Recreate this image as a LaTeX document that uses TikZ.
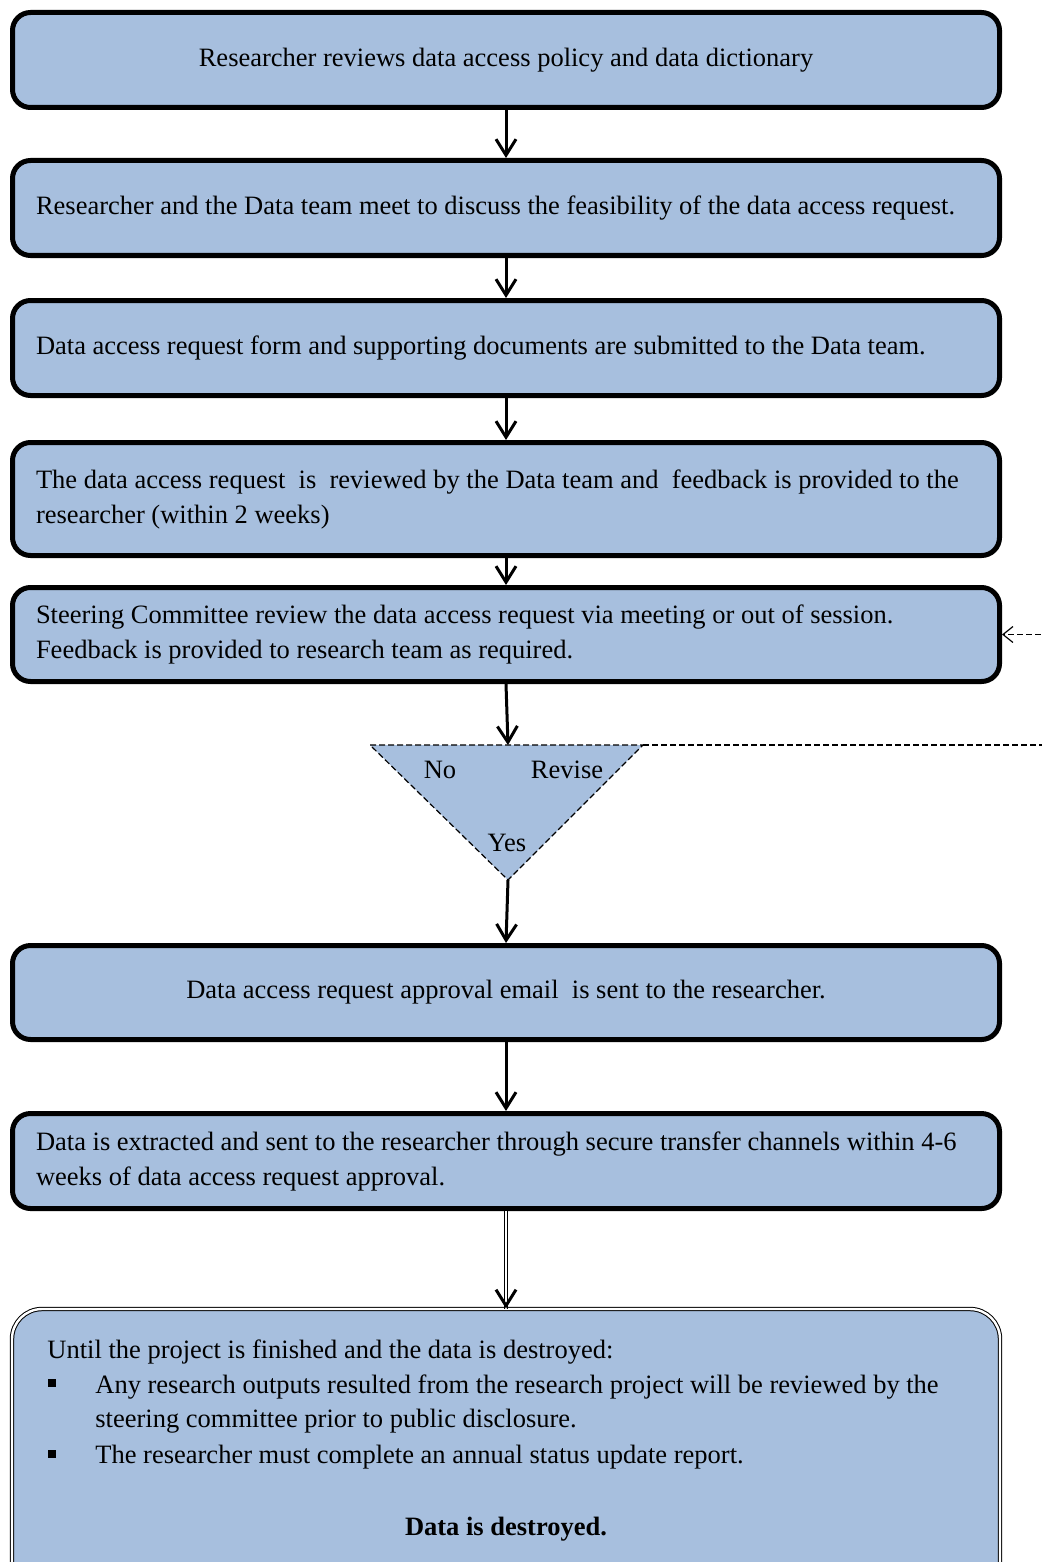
\documentclass[tikz,border=0pt]{standalone}
\usepackage{fontspec}
\setmainfont{Liberation Serif}
\usetikzlibrary{
    positioning,
    arrows.meta
}
\definecolor{boxblue}{HTML}{A7BFDE}
\tikzset{
    >={Straight Barb[length=8pt,width=10pt]},
    every node/.style={
        font=\fontsize{13.25}{17.5}\selectfont
    },
    paso/.style={
        draw,
        line width=2.5pt,
        rounded corners=9pt,
        fill=boxblue,
        minimum width=493.5pt,
        minimum height=47.5pt,
        text width=470pt,
        inner xsep=11.75pt,
        align=left,
        execute at begin node={\spaceskip=0pt\xspaceskip=0pt}
    },
    finbox/.style={
        draw,
        line width=0.5pt,
        double=white,
        double distance=1.2pt,
        rounded corners=15pt,
        fill=boxblue,
        minimum width=494pt,
        minimum height=145.5pt
    },
    flecha/.style={->, line width=1.5pt},
    guion/.style={
        line width=0.6pt,
        dash pattern=on 3pt off 1.5pt
    },
    linea/.style={anchor=base west, inner sep=0pt},
    bala/.style={fill=black, minimum size=4pt, inner sep=0pt}
}
\begin{document}
\begin{tikzpicture}[
    x=0.5pt,
    y=-0.5pt
]
    \clip (0,0) rectangle (1042,1562);

    % Pasos
    \node[paso, align=flush center] (box1) at (506,60)
        {Researcher reviews data access policy and data dictionary};
    \node[paso] (box2) at (506,208)
        {Researcher and the Data team meet to discuss the feasibility of the data access request.};
    \node[paso] (box3) at (506,348)
        {Data access request form and supporting documents are submitted to the Data team.};
    \node[paso, minimum height=56.5pt] (box4) at (506,499)
        {The data access request~ is~ reviewed by the Data team and~ feedback is provided to the\\
         researcher (within 2 weeks)};
    \node[paso, minimum height=47pt] (box5) at (506,634.5)
        {Steering Committee review the data access request via meeting or out of session.\\
         Feedback is provided to research team as required.};

    % Decision
    \coordinate (triL) at (370,745);
    \coordinate (triT) at (508,745);
    \coordinate (triR) at (643,745);
    \coordinate (triB) at (508,880);
    \coordinate (revR) at (1070,745);
    \draw[guion, fill=boxblue] (triL) -- (triR) -- (triB) -- cycle;
    \node (no)     at (440,770) {No};
    \node (revise) at (567,770) {Revise};
    \node (yes)    at (507,843) {Yes};

    \node[paso, align=flush center, minimum height=47pt] (box6) at (506,992.5)
        {Data access request approval email~ is sent to the researcher.};
    \node[paso] (box7) at (506,1161)
        {Data is extracted and sent to the researcher through secure transfer channels within 4-6\\
         weeks of data access request approval.};

    % Caja final
    \node[finbox] (box8) at (506,1454.5) {};
    \node[linea] (until) at (47,1358)
        {Until the project is finished and the data is destroyed:};
    \node[bala] (bulA) at (52,1383) {};
    \node[linea] (itemA) at (95,1393)
        {Any research outputs resulted from the research project will be reviewed by the};
    \node[linea] (itemAb) at (95,1427)
        {steering committee prior to public disclosure.};
    \node[bala] (bulB) at (52,1454) {};
    \node[linea] (itemB) at (95,1463)
        {The researcher must complete an annual status update report.};
    \node[anchor=base, inner sep=0pt] (destroyed) at (506,1535)
        {\textbf{Data is destroyed.}};

    % Flechas
    \draw[flecha] (box1) -- (box2);
    \draw[flecha] (box2) -- (box3);
    \draw[flecha] (box3) -- (box4);
    \draw[flecha] (box4) -- (box5);
    \draw[flecha] (box5.south) -- (triT);
    \draw[flecha] (triB) -- (box6.north);
    \draw[flecha] (box6) -- (box7);
    \draw[line width=0.5pt, double=white, double distance=1pt]
        (box7.south) -- (box8.north);
    \draw[flecha] (box8.north) ++(0,-2) -- (box8.north);
    \draw[guion, ->, >={Straight Barb[length=5pt,width=8pt]}]
        (triR) -- (revR) |- (box5.east);

\end{tikzpicture}
\end{document}
